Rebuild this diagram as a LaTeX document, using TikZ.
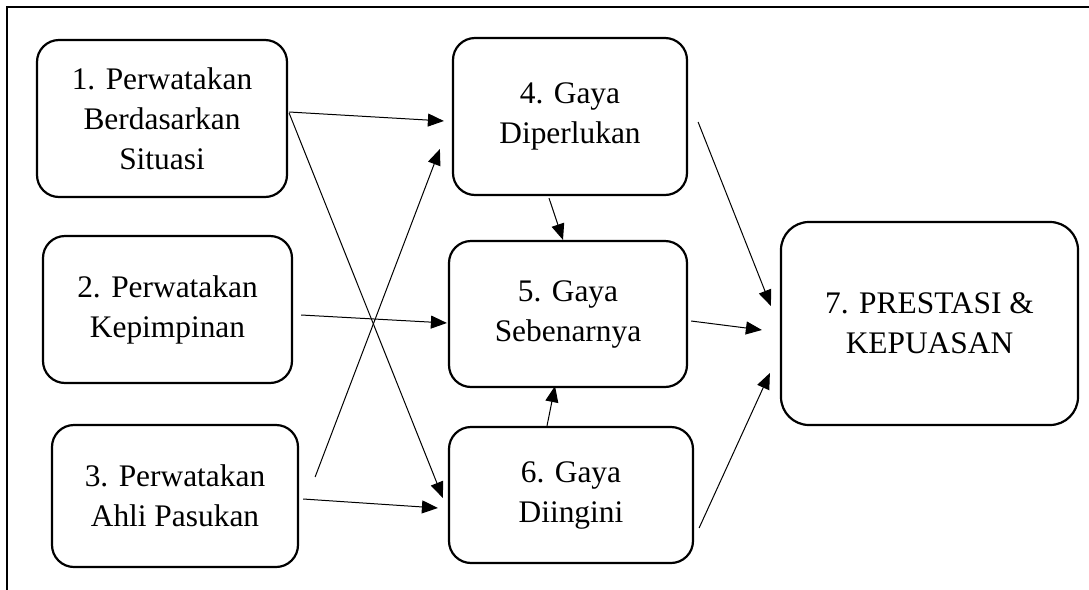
\documentclass[tikz,border=0pt]{standalone}
\usepackage{fontspec}
\setmainfont{Liberation Serif}
\usetikzlibrary{arrows.meta}

\tikzset{
  box/.style={draw, line width=1.1pt, rounded corners=11pt, align=center,
              inner sep=0pt, font=\fontsize{15.7}{20}\selectfont},
  arr/.style={line width=0.5pt, -{Triangle[length=8pt,width=6.5pt]}}
}

\begin{document}
\begin{tikzpicture}[x=0.5pt, y=-0.5pt]
    \useasboundingbox (0,0) rectangle (1089,590);
    \draw[line width=1pt] (7,590) -- (7,7) -- (1089,7);

    \node[box, minimum width=125pt, minimum height=78.5pt](situasi) at (162,118.5) {1. Perwatakan\\Berdasarkan\\Situasi};
    \node[box, minimum width=124.5pt, minimum height=73.5pt](kepimpinan) at (167.5,309.5) {2. Perwatakan\\Kepimpinan};
    \node[box, minimum width=123pt, minimum height=71pt](pasukan) at (175,496) {3. Perwatakan\\Ahli Pasukan};
    \node[box, minimum width=117pt, minimum height=78.5pt](diperlukan) at (570,116.5) {4. Gaya\\Diperlukan};
    \node[box, minimum width=119pt, minimum height=73pt](sebenar) at (568,314) {5. Gaya\\Sebenarnya};
    \node[box, minimum width=122pt, minimum height=68pt](diingini) at (571,495) {6. Gaya\\Diingini};
    \node[box, rounded corners=14pt, minimum width=148.5pt, minimum height=101.5pt](prestasi) at (929.5,323.5) {7. PRESTASI \&\\KEPUASAN};

    \draw[arr] ([shift={(1,-6.5)}]situasi.east) -- ([shift={(-8,4.5)}]diperlukan.west);
    \draw[arr] ([shift={(1,-5.5)}]situasi.east) -- ([shift={(-5,3)}]diingini.west);
    \draw[arr] ([shift={(8,5.5)}]kepimpinan.east) -- ([shift={(-1,9)}]sebenar.west);
    \draw[arr] ([shift={(16,-19)}]pasukan.east) -- ([shift={(-12,32.5)}]diperlukan.west);
    \draw[arr] ([shift={(4,3)}]pasukan.east) -- ([shift={(-10,13)}]diingini.west);
    \draw[arr] ([shift={(-21,2)}]diperlukan.south) -- ([shift={(-5,0)}]sebenar.north);
    \draw[arr] ([shift={(-24,0)}]diingini.north) -- ([shift={(-13,-2)}]sebenar.south);
    \draw[arr] ([shift={(10,5.5)}]diperlukan.east) -- ([shift={(-9,-17.5)}]prestasi.west);
    \draw[arr] ([shift={(3,7)}]sebenar.east) -- ([shift={(-18,6.5)}]prestasi.west);
    \draw[arr] ([shift={(5,33)}]diingini.east) -- ([shift={(-10,49.5)}]prestasi.west);
\end{tikzpicture}
\end{document}
